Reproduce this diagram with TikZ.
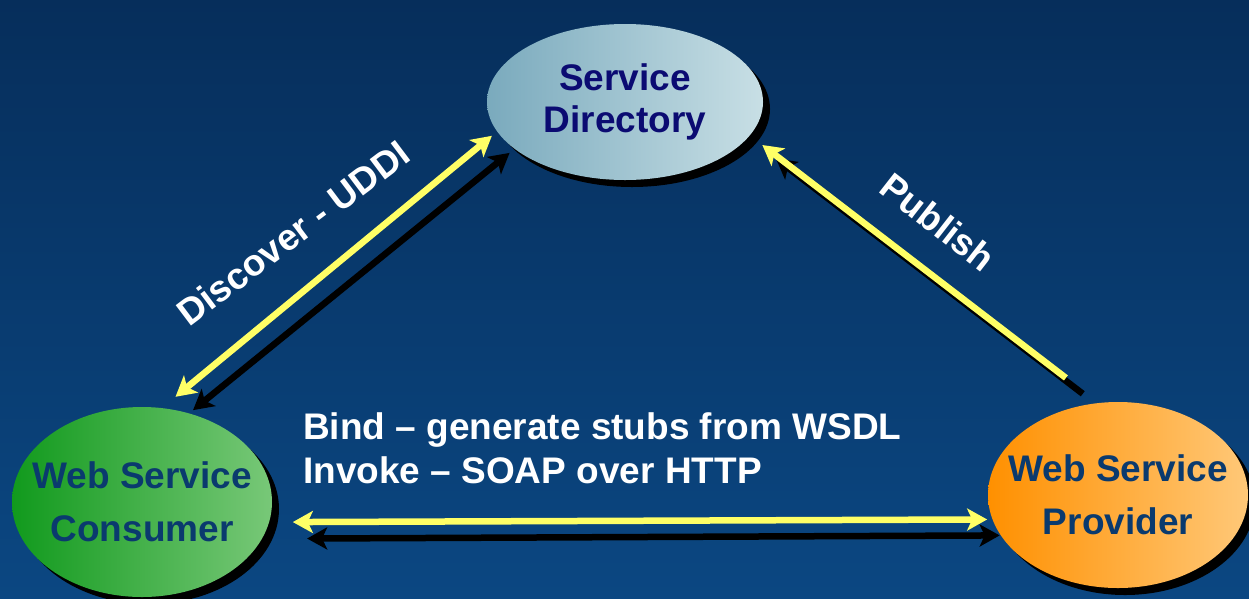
\documentclass[tikz,border=0pt]{standalone}
\usepackage{fontspec}
\setmainfont{Liberation Sans}
\usetikzlibrary{shapes.geometric,shadows,arrows.meta}

\definecolor{bgtop}{HTML}{062E5B}
\definecolor{bgbot}{HTML}{0B4782}
\definecolor{linkyellow}{HTML}{FFFF66}
\definecolor{dirleft}{HTML}{7AAABD}
\definecolor{dirright}{HTML}{C8DFE5}
\definecolor{dirtext}{HTML}{0B0B72}
\definecolor{conleft}{HTML}{119A1D}
\definecolor{conright}{HTML}{78C878}
\definecolor{proleft}{HTML}{FF9000}
\definecolor{proright}{HTML}{FFC878}
\definecolor{roletext}{HTML}{0A3A6E}

\begin{document}
\begin{tikzpicture}[x=1pt,y=-1pt]
  \tikzstyle{party}=[ellipse,inner xsep=-30pt,inner ysep=0pt,align=center,
                     general shadow={shadow xshift=7pt,shadow yshift=-7pt,fill=black}]
  \tikzstyle{link}=[line width=6.5pt,{Stealth[length=20pt,width=22pt,inset=5pt]}-{Stealth[length=20pt,width=22pt,inset=5pt]}]
  \tikzstyle{onelink}=[line width=6.5pt,-{Stealth[length=20pt,width=22pt,inset=5pt]}]
  \tikzstyle{caption}=[text=white,font=\fontsize{37}{44}\bfseries\selectfont,inner sep=0pt]

  \useasboundingbox (0,0) rectangle (1249,598);
  \clip (0,0) rectangle (1249,598);
  \shade[top color=bgtop,bottom color=bgbot] (0,0) rectangle (1249,598);

  \node[party,minimum width=276pt,minimum height=156pt,left color=dirleft,right color=dirright,
        text=dirtext,font=\fontsize{37}{42}\bfseries\selectfont] (dir) at (625,102) {Service\\Directory};
  \node[party,minimum width=260pt,minimum height=190pt,left color=conleft,right color=conright,
        text=roletext,font=\fontsize{37}{53}\bfseries\selectfont] (con) at (142,502) {Web Service\\Consumer};
  \node[party,minimum width=260pt,minimum height=186pt,left color=proleft,right color=proright,
        text=roletext,font=\fontsize{37}{53}\bfseries\selectfont] (pro) at (1118,495) {Web Service\\Provider};

  % discover
  \draw[link,black,shorten <=5pt,shorten >=6.3pt] (con.62.6) -- (dir.203.1);
  \draw[link,linkyellow,shorten <=17.5pt,shorten >=6.7pt] (con.78.3) -- (dir.193.7);

  % publish
  \draw[onelink,black,shorten <=15.6pt,shorten >=34.8pt] (pro.104.5) -- (dir.344.9);
  \draw[onelink,linkyellow,shorten <=41pt,shorten >=15.7pt] (pro.102) -- (dir.345.5);

  % bind / invoke
  \draw[link,black,shorten <=45pt,shorten >=1pt] (con.343.9) -- (pro.199.9);
  \draw[link,linkyellow,shorten <=23.6pt,shorten >=5.2pt] (con.351.5) -- (pro.191.8);

  \node[caption,rotate=37] (discover) at (293,233) {Discover - UDDI};
  \node[caption,rotate=-38] (publish) at (938,222) {Publish};
  \node[caption,align=left,anchor=base west] (bind) at (303,483)
    {Bind -- generate stubs from WSDL\\Invoke -- SOAP over HTTP};
\end{tikzpicture}
\end{document}
